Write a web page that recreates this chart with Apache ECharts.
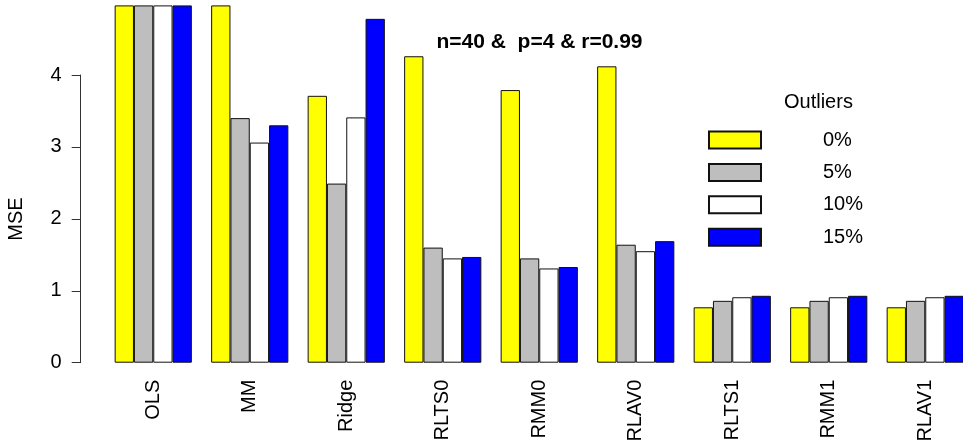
<!DOCTYPE html>
<html>
<head>
<meta charset="utf-8">
<script src="https://cdn.jsdelivr.net/npm/echarts@6/dist/echarts.min.js"></script>
<style>html,body{margin:0;padding:0;background:#fff;}#c{width:963px;height:447px;}</style>
</head>
<body>
<div id="c"></div>
<script>
var categories = ['OLS', 'MM', 'Ridge', 'RLTS0', 'RMM0', 'RLAV0', 'RLTS1', 'RMM1', 'RLAV1'];
var seriesNames = ['0%', '5%', '10%', '15%'];
var out0  = [7.5, 5.6, 3.71, 4.26, 3.79, 4.12, 0.77, 0.77, 0.77];
var out5  = [6.8, 3.40, 2.49, 1.60, 1.45, 1.64, 0.86, 0.86, 0.86];
var out10 = [7.0, 3.06, 3.41, 1.45, 1.31, 1.55, 0.91, 0.91, 0.91];
var out15 = [7.2, 3.30, 4.78, 1.47, 1.33, 1.69, 0.93, 0.93, 0.93];
var yTicks = [0, 1, 2, 3, 4];
var colors = ['#FFFF00', '#BEBEBE', '#FFFFFF', '#0000FF'];
var titleText = 'n=40 &  p=4 & r=0.99';
var legendTitle = 'Outliers';
var yName = 'MSE';

var FONT = '"Liberation Sans", Arial, Helvetica, sans-serif';
var allData = [out0, out5, out10, out15];

var chart = echarts.init(document.getElementById('c'), null, {renderer: 'canvas'});
var series = seriesNames.map(function (n, i) {
  return {
    name: n, type: 'bar', xAxisIndex: 0, yAxisIndex: 0,
    data: allData[i], clip: true,
    barGap: '0%', barCategoryGap: '20%',
    itemStyle: {color: colors[i], borderColor: '#111', borderWidth: 1},
    emphasis: {disabled: true}, animation: false
  };
});

chart.setOption({
  animation: false,
  textStyle: {fontFamily: FONT},
  grid: [
    {left: 105, width: 868.5, top: 5.9, height: 356.8, containLabel: false, outerBoundsMode: 'none'},
    {left: 80.7, width: 10, top: 75, height: 287.7, containLabel: false, outerBoundsMode: 'none'}
  ],
  xAxis: [
    {type: 'category', gridIndex: 0, data: categories,
     axisLine: {show: false}, axisTick: {show: false}, splitLine: {show: false},
     axisLabel: {rotate: 90, margin: 17, fontSize: 20, color: '#000', fontFamily: FONT, interval: 0}},
    {type: 'value', gridIndex: 1, show: false}
  ],
  yAxis: [
    {type: 'value', gridIndex: 0, min: 0, max: 4.96, show: false},
    {type: 'value', gridIndex: 1, min: 0, max: yTicks[yTicks.length - 1], interval: 1,
     axisLine: {show: true, lineStyle: {color: '#333', width: 1}},
     axisTick: {show: true, length: 9, lineStyle: {color: '#333'}},
     splitLine: {show: false},
     axisLabel: {margin: 19, fontSize: 20, color: '#000', fontFamily: FONT}}
  ],
  legend: {
    orient: 'vertical', left: 708, top: 130, padding: 0,
    icon: 'rect',
    itemWidth: 52, itemHeight: 17, itemGap: 12.4,
    data: seriesNames, selectedMode: false,
    textStyle: {fontSize: 20, color: '#000', fontFamily: FONT, padding: [0, 0, 0, 57]}
  },
  graphic: [
    {type: 'text', x: 539.5, y: 42.5,
     style: {text: titleText, font: 'bold 21px ' + FONT, fill: '#000', textAlign: 'center', textVerticalAlign: 'middle'}},
    {type: 'text', x: 784, y: 102,
     style: {text: legendTitle, font: '20px ' + FONT, fill: '#000', textAlign: 'left', textVerticalAlign: 'middle'}},
    {type: 'text', x: 16, y: 219, rotation: Math.PI / 2,
     style: {text: yName, font: '20px ' + FONT, fill: '#000', textAlign: 'center', textVerticalAlign: 'middle'}}
  ],
  series: series
});
</script>
</body>
</html>
